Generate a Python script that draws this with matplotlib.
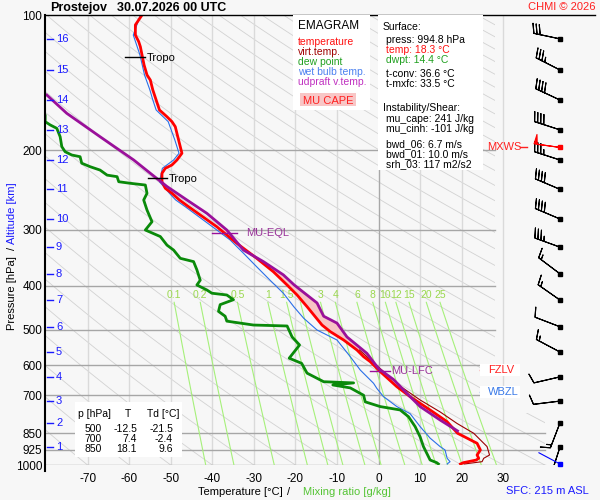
import numpy as np
import matplotlib
matplotlib.use('Agg')
import matplotlib.pyplot as plt
from matplotlib.patches import Rectangle, Polygon

plt.rcParams['font.family'] = ['Liberation Sans', 'DejaVu Sans']

# ---------------- data ----------------
temp_p = [100, 105.2, 110.8, 114.6, 117.6, 122.7, 129.2, 135.9, 139.5, 146.8, 154.5, 162.6,
          168.3, 172.6, 177.1, 189.6, 202.9, 210, 215.4, 219.1, 224.8, 234.7, 242.7, 249,
          257.7, 266.7, 278.2, 295.5, 321.6, 347.3, 372, 398.1, 419, 444.8, 488.6, 505.5,
          527.5, 555.2, 574.5, 589.4, 620, 669.8, 704.9, 754.6, 801.3, 850, 894.8, 926.1,
          950.1, 966.3, 975, 988.2, 994.8]
temp_t = [-56.9, -58.5, -58.5, -57.7, -57.3, -56.9, -56.4, -55.7, -54.9, -54.3, -53.5, -52.7,
          -50.9, -49.7, -48.9, -48.1, -47.3, -48.5, -49.7, -51.3, -52.1, -52.1, -51.3, -49.7,
          -47.9, -45.7, -42.9, -38.9, -34.1, -29.3, -25.3, -22.0, -19.6, -17.2, -13.6, -11.6,
          -8.4, -5.2, -3.6, -2.0, 0.4, 4.4, 7.6, 12.4, 16.5, 19.0, 23.7, 24.5,
          23.7, 24.1, 23.5, 20.4, 19.7]

virt_p = [555.2, 620, 670, 717, 762, 808.7, 850.3, 910, 950.1, 966.3, 983.2, 994.8]
virt_t = [-4.6, 1.2, 5.4, 10.0, 14.8, 18.9, 22.9, 26.1, 26.7, 25.3, 24.9, 20.6]

dewp_p = [160, 166.8, 172.6, 175.5, 178.6, 186.4, 196.1, 201.3, 204.7, 206.5, 213.5, 217.3,
          221.1, 226.9, 228.7, 234.7, 236.6, 238.7, 249.0, 257.7, 271.3, 288.0, 300.5, 310.7,
          324.6, 333, 347.3, 353.2, 368.4, 388.5, 398.1, 408.4, 415.2, 419, 429.2, 440.2,
          455.6, 467.1, 479, 488.6, 491, 519.3, 541.2, 579, 594.4, 625, 653, 657, 664,
          674, 699.8, 723.9, 741.6, 754.6, 781, 821.6, 866, 910, 974.7, 988.2, 994.8]
dewp_t = [-82.0, -80.2, -80.2, -79.0, -77.4, -76.6, -76.2, -75.4, -73.8, -71.8, -71.4, -69.4,
          -67.0, -65.3, -62.9, -62.5, -59.7, -56.1, -55.7, -56.5, -55.7, -54.5, -56.1, -52.5,
          -50.9, -49.3, -47.7, -44.5, -43.7, -42.9, -43.7, -41.3, -40.1, -36.5, -34.9, -38.1,
          -38.5, -36.9, -36.5, -30.1, -22.0, -20.8, -19.0, -21.5, -18.5, -17.2, -13.2, -6.0, -11.0,
          -6.8, -3.6, -3.2, 0.4, 5.2, 7.2, 8.8, 10.0, 10.8, 12.4, 14.0, 14.4]

wetb_p = [100, 110.8, 122.7, 135.9, 146.8, 154.5, 162.6, 172.6, 189.6, 202.9, 210, 219.1,
          234.7, 249, 257.7, 266.7, 300.5, 316.2, 338.4, 362.8, 388.5, 415.2, 444.8, 472,
          501.2, 527.5, 574.5, 615.1, 658.3, 676, 704.9, 741.6, 769, 821.6, 871.4, 910,
          926.1, 966.3, 983.2, 994.8]
wetb_t = [-57.3, -59.0, -57.4, -56.3, -55.0, -54.3, -53.5, -50.6, -49.0, -48.0, -49.3, -52.0,
          -52.7, -50.3, -48.8, -46.5, -38.9, -35.7, -32.5, -29.3, -26.1, -22.9, -20.4, -18.0,
          -14.8, -10.0, -6.8, -4.4, -1.2, -0.4, 1.2, 4.4, 7.6, 10.0, 12.4, 14.8,
          16.0, 16.5, 17.2, 16.5]

parcel_p = [150.6, 165.4, 186.4, 210, 224.8, 240.5, 257.7, 275.9, 300.5, 333, 353.2, 378,
            398, 436.4, 467.1, 483.8, 519.3, 564.8, 610.7, 645.7, 704.9, 741.6, 794.3, 840]
parcel_t = [-79.8, -75.0, -67.0, -58.9, -54.9, -50.9, -46.1, -41.3, -36.5, -32.5, -27.7, -22.9,
            -20.3, -14.8, -13.2, -10.0, -7.6, -2.8, 0.0, 3.6, 7.6, 10.0, 14.8, 19.0]

alt_km = list(range(1, 17))
alt_p = [912, 806, 721, 637, 561, 493, 430, 376, 328, 284, 244, 210, 180, 154.5, 132.5, 113]
wind_dir = [198, 201, 263, 257, 298, 291, 305, 307, 290, 293, 293, 288, 288, 295, 297, 282]
wind_spd = [15, 15, 10, 10, 15, 10, 15, 15, 35, 40, 40, 35, 40, 40, 35, 30]
mxws_p, mxws_dir, mxws_spd = 196.5, 278, 50
sfc_p, sfc_dir = 994.8, 298

mix_ratios = [0.1, 0.2, 0.5, 1, 1.5, 2, 3, 4, 6, 8, 10, 12, 15, 20, 25]
mix_labels = ['0.1', '0.2', '0.5', '1', '1.5', '2', '3', '4', '6', '8', '10', '12', '15', '20', '25']

p_levels = [100, 200, 300, 400, 500, 600, 700, 850, 925, 1000]
t_ticks = list(range(-70, 31, 10))

tbl_p = [500, 700, 850]
tbl_t = [-12.5, 7.4, 18.1]
tbl_td = [-21.5, -2.4, 9.6]

# ---------------- layout ----------------
W, H = 600, 500
X0, X1, Y0, Y1 = 45, 595, 15, 465
TMIN, TMAX = -80.24, 52.07
BG = '#f7f7f7'

def TX(x):
    return TMIN + (x - X0) * (TMAX - TMIN) / (X1 - X0)

def PY(y):
    return 100 * 10 ** ((y - Y0) / (Y1 - Y0))

def F(x, y):
    return (x / W, 1 - y / H)

fig = plt.figure(figsize=(6, 5), dpi=100, facecolor=BG)
ax = fig.add_axes([X0 / W, 1 - Y1 / H, (X1 - X0) / W, (Y1 - Y0) / H])
ax.set_facecolor(BG)
ax.set_xlim(TMIN, TMAX)
ax.set_yscale('log')
ax.set_ylim(1000, 100)
for s in ax.spines.values():
    s.set_visible(False)
ax.minorticks_off()
ax.set_yticks(p_levels)
ax.set_yticklabels([str(p) for p in p_levels], fontsize=8.5)
ax.set_xticks(t_ticks)
ax.set_xticklabels([str(t) for t in t_ticks], fontsize=8.5)
ax.tick_params(axis='both', length=0)
ax.tick_params(axis='y', pad=2)
ax.tick_params(axis='x', pad=6)

# clip region for background lines
clip_poly = Polygon([(TMIN, 100), (TX(495), 100), (TX(495), PY(413)), (TX(545), PY(413)),
                     (TX(545), 1000), (TMIN, 1000)], closed=True, transform=ax.transData,
                    facecolor='none', edgecolor='none')
ax.add_patch(clip_poly)

pp = np.logspace(2, 3, 200)
for th in range(-80, 340, 10):
    tt = (th + 273.15) * (pp / 1000.0) ** 0.2857 - 273.15
    ln, = ax.plot(tt, pp, color='#d2d2d2', lw=0.6, zorder=1)
    ln.set_clip_path(clip_poly)

# isotherms
for t in t_ticks:
    ax.plot([t, t], [100, 1000], color='#a8a8a8' if t == 0 else '#dadada', lw=1, zorder=1.2)

# isobars
for p in p_levels[1:]:
    xe = TX(545) if p >= 850 else TX(495)
    ax.plot([TMIN, xe], [p, p], color='#a6a6a6', lw=1, zorder=1.3)
ax.plot([TMIN, TMAX], [100, 100], color='k', lw=1, zorder=5, clip_on=False)
ax.plot([TMIN, TMIN], [100, PY(471)], color='k', lw=1.5, zorder=5, clip_on=False)

# mixing ratio lines
pm = np.logspace(np.log10(435), 3, 60)
for w, lab in zip(mix_ratios, mix_labels):
    e = w * pm / (622.0 + w)
    a = np.log(e / 6.112)
    tm = 243.5 * a / (17.67 - a)
    ax.plot(tm, pm, color='#a6f07a', lw=0.8, zorder=1.5)
    ax.text(tm[0], PY(295), lab, color='#9ad84e', fontsize=7.5, ha='center', va='center', zorder=1.6)

# altitude ticks
for k, p in zip(alt_km, alt_p):
    ax.plot([TX(47), TX(53)], [p, p], color='#1a1aff', lw=1, zorder=5)
    ax.text(TX(56), p, str(k), color='#1a1aff', fontsize=8, va='center', ha='left', zorder=5)

# CAPE area
lp = np.linspace(np.log(300), np.log(620), 300)
te = np.interp(lp, np.log(temp_p), temp_t)
tp = np.interp(lp, np.log(parcel_p), parcel_t)
ax.fill_betweenx(np.exp(lp), te, tp, where=tp > te, color='#f7c4c4', zorder=2, lw=0)

# profiles
ax.plot(wetb_t, wetb_p, color='#2a6fe8', lw=0.8, zorder=3)
ax.plot(dewp_t, dewp_p, color='#0a8a0a', lw=2.0, zorder=3.2)
ax.plot(virt_t, virt_p, color='#9a0000', lw=0.8, zorder=3.3)
ax.plot(temp_t, temp_p, color='#ff0000', lw=2.0, zorder=3.4)
ax.plot(parcel_t, parcel_p, color='#9a109a', lw=2.0, zorder=3.5)

# markers
ax.plot([TX(125), TX(145)], [PY(57), PY(57)], color='k', lw=1, zorder=4)
ax.text(TX(147), PY(58), 'Tropo', fontsize=8, va='center', zorder=4)
ax.plot([TX(148), TX(167)], [PY(178), PY(178)], color='k', lw=1, zorder=4)
ax.text(TX(169), PY(179), 'Tropo', fontsize=8, va='center', zorder=4)
ax.plot([TX(212), TX(237)], [PY(233), PY(233)], color='#9a109a', lw=1, zorder=4)
ax.text(TX(246), PY(233), 'MU-EQL', fontsize=8, color='#993399', va='center', zorder=4)
ax.plot([TX(370), TX(390)], [PY(371), PY(371)], color='#9a109a', lw=1, zorder=4)
ax.text(TX(391), PY(371), 'MU-LFC', fontsize=8, color='#993399', va='center', zorder=4)

# wind barbs
bx = TX(560)
bsizes = dict(spacing=0.12, height=0.36, width=0.22)
rad = np.deg2rad(wind_dir)
u = -np.array(wind_spd) * np.sin(rad)
v = -np.array(wind_spd) * np.cos(rad)
ax.barbs([bx] * len(alt_p), alt_p, u, v, length=6.2, lw=0.8, color='k', zorder=6, sizes=bsizes)
ax.plot([bx] * len(alt_p), alt_p, 's', ms=2.3, color='k', zorder=6)
mr = np.deg2rad(mxws_dir)
ax.barbs([bx], [mxws_p], [-mxws_spd * np.sin(mr)], [-mxws_spd * np.cos(mr)], length=6.2,
         lw=0.8, color='#ff0000', zorder=6.5, sizes=dict(spacing=0.12, height=0.36, width=0.12))
ax.plot([bx], [mxws_p], 's', ms=2.3, color='#ff0000', zorder=6.5)
sr = np.deg2rad(sfc_dir)
ax.annotate('', xy=(bx, sfc_p), xytext=(17.3 * np.sin(sr), 17.3 * np.cos(sr)),
            textcoords='offset points', annotation_clip=False,
            arrowprops=dict(arrowstyle='-', color='#0000ff', lw=0.8, shrinkA=0, shrinkB=0), zorder=6)
ax.plot([bx], [sfc_p], 's', ms=2.3, color='#0000ff', zorder=6, clip_on=False)

# MXWS / FZLV / WBZL labels
ax.text(TX(487), mxws_p, 'MXWS', color='#ff2020', fontsize=8, va='center', zorder=6)
ax.plot([TX(520), TX(527)], [mxws_p, mxws_p], color='#ff2020', lw=1, zorder=6)
for yy, lab, col in [(370, 'FZLV', '#ff2020'), (391.7, 'WBZL', '#3a7ae8')]:
    fig.add_artist(Rectangle(F(480, yy + 6), 40 / W, 12 / H, transform=fig.transFigure,
                             facecolor='white', edgecolor='none', zorder=1))
    ax.plot([TX(480), TX(487)], [PY(yy), PY(yy)], color=col, lw=1, zorder=6)
    fig.text(*F(488, yy), lab, color=col, fontsize=8, va='center', zorder=3)

# legend box
fig.add_artist(Rectangle(F(293, 110), 77 / W, 95 / H, transform=fig.transFigure,
                         facecolor='white', edgecolor='none', zorder=1))
fig.text(*F(298, 26), 'EMAGRAM', fontsize=8.5, va='center')
for yy, lab, col in [(42, 'temperature', '#ff1010'), (52, 'virt.temp.', '#a00000'),
                     (62, 'dew point', '#20a020'), (72, 'wet bulb temp.', '#4a80f0'),
                     (82, 'udpraft v.temp.', '#c030c0')]:
    fig.text(*F(298, yy), lab, fontsize=7.5, color=col, va='center')
fig.add_artist(Rectangle(F(300, 106), 56 / W, 13 / H, transform=fig.transFigure,
                         facecolor='#f8c6c6', edgecolor='none', zorder=2))
fig.text(*F(303, 101), 'MU CAPE', fontsize=8, color='#ff2020', va='center')

# info box
fig.add_artist(Rectangle(F(378, 170), 105 / W, 155 / H, transform=fig.transFigure,
                         facecolor='white', edgecolor='none', zorder=1))
info = [(382.7, 27, 'Surface:', 'k'), (386, 40, 'press: 994.8 hPa', 'k'),
        (386, 50, 'temp: 18.3 °C', '#ff1010'), (386, 60, 'dwpt: 14.4 °C', '#20a020'),
        (386, 74, 't-conv: 36.6 °C', 'k'), (386, 84, 't-mxfc: 33.5 °C', 'k'),
        (382.7, 108, 'Instability/Shear:', 'k'), (386, 119, 'mu_cape: 241 J/kg', 'k'),
        (386, 129, 'mu_cinh: -101 J/kg', 'k'), (386, 144, 'bwd_06: 6.7 m/s', 'k'),
        (386, 154, 'bwd_01: 10.0 m/s', 'k'), (386, 164, 'srh_03: 117 m2/s2', 'k')]
for x, y, s, c in info:
    fig.text(*F(x, y), s, fontsize=7.5, color=c, va='center')

# table
fig.add_artist(Rectangle(F(75, 457), 107 / W, 55 / H, transform=fig.transFigure,
                         facecolor='white', edgecolor='none', zorder=1))
fig.text(*F(78, 414), 'p [hPa]', fontsize=7.5, va='center')
fig.text(*F(128, 414), 'T', fontsize=7.5, va='center', ha='center')
fig.text(*F(147, 414), 'Td [°C]', fontsize=7.5, va='center')
for i in range(len(tbl_p)):
    y = 429 + 10 * i
    fig.text(*F(102, y), str(tbl_p[i]), fontsize=7.5, va='center', ha='right')
    fig.text(*F(137, y), f'{tbl_t[i]:.1f}', fontsize=7.5, va='center', ha='right')
    fig.text(*F(173, y), f'{tbl_td[i]:.1f}', fontsize=7.5, va='center', ha='right')

# titles and axis labels
fig.text(*F(50, 8), 'Prostejov', fontsize=9, fontweight='bold', va='center')
fig.text(*F(117, 8), '30.07.2026 00 UTC', fontsize=9, fontweight='bold', va='center')
fig.text(*F(595, 7), 'CHMI © 2026', fontsize=8, color='#ff2020', va='center', ha='right')
fig.text(*F(589, 491), 'SFC: 215 m ASL', fontsize=8, color='#1a1aff', va='center', ha='right')
fig.text(*F(198, 492), 'Temperature [°C]', fontsize=8, va='center')
fig.text(*F(287, 492), '/', fontsize=8, va='center')
fig.text(*F(303, 492), 'Mixing ratio [g/kg]', fontsize=8, color='#55c435', va='center')
fig.text(*F(12, 293), 'Pressure [hPa]', fontsize=8, rotation=90, va='center', ha='center')
fig.text(*F(12, 248), '/', fontsize=8, rotation=90, va='center', ha='center')
fig.text(*F(12, 213), 'Altitude [km]', fontsize=8, color='#1a1aff', rotation=90,
         va='center', ha='center')

fig.savefig('out.png', dpi=100, facecolor=BG)
